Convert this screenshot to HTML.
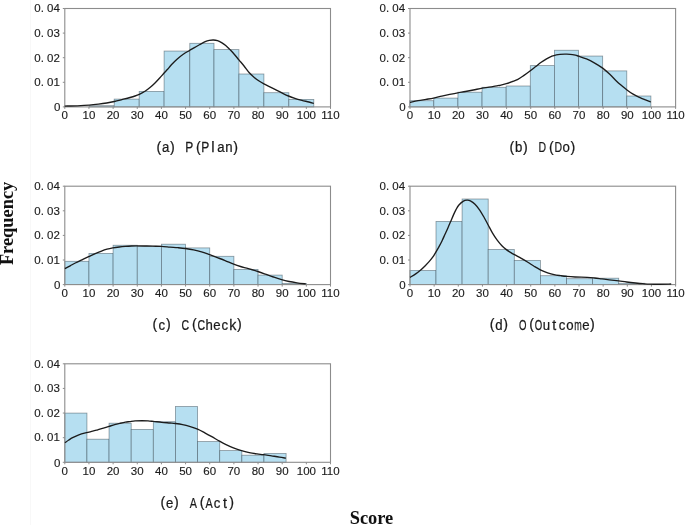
<!DOCTYPE html>
<html><head><meta charset="utf-8"><title>Histograms</title>
<style>html,body{margin:0;padding:0;background:#fff;}svg{display:block;will-change:transform;transform:translateZ(0);}</style>
</head><body>
<svg width="685" height="525" viewBox="0 0 685 525">
<style>
.t{font-family:"Liberation Sans",sans-serif;font-size:11.5px;fill:#1c1c1c;stroke:#1c1c1c;stroke-width:0.15px;}
.c{font-family:"Liberation Sans",sans-serif;font-size:15px;fill:#1a1a1a;stroke:#1a1a1a;stroke-width:0.25px;}
.b{font-family:"Liberation Serif",serif;font-size:18.4px;font-weight:bold;fill:#111;}
</style><rect width="685" height="525" fill="#ffffff"/>
<line x1="30.5" y1="0" x2="30.5" y2="525" stroke="#f8f8f8" stroke-width="1"/>
<g><rect x="89.25" y="105.70" width="24.95" height="1.20" fill="#B6DFF1" stroke="rgba(40,55,65,0.5)" stroke-width="0.8"/>
<rect x="114.20" y="99.10" width="25.00" height="7.80" fill="#B6DFF1" stroke="rgba(40,55,65,0.5)" stroke-width="0.8"/>
<rect x="139.20" y="91.40" width="24.90" height="15.50" fill="#B6DFF1" stroke="rgba(40,55,65,0.5)" stroke-width="0.8"/>
<rect x="164.10" y="51.05" width="25.70" height="55.85" fill="#B6DFF1" stroke="rgba(40,55,65,0.5)" stroke-width="0.8"/>
<rect x="189.80" y="43.30" width="24.20" height="63.60" fill="#B6DFF1" stroke="rgba(40,55,65,0.5)" stroke-width="0.8"/>
<rect x="214.00" y="49.60" width="24.95" height="57.30" fill="#B6DFF1" stroke="rgba(40,55,65,0.5)" stroke-width="0.8"/>
<rect x="238.95" y="74.00" width="24.95" height="32.90" fill="#B6DFF1" stroke="rgba(40,55,65,0.5)" stroke-width="0.8"/>
<rect x="263.90" y="92.70" width="24.95" height="14.20" fill="#B6DFF1" stroke="rgba(40,55,65,0.5)" stroke-width="0.8"/>
<rect x="288.85" y="99.40" width="24.95" height="7.50" fill="#B6DFF1" stroke="rgba(40,55,65,0.5)" stroke-width="0.8"/>
<rect x="64.80" y="8.50" width="265.70" height="98.40" fill="none" stroke="#8c8c8c" stroke-width="1.1"/>
<line x1="64.80" y1="106.90" x2="64.80" y2="108.90" stroke="#8c8c8c" stroke-width="1"/>
<text x="64.80" y="119.30" text-anchor="middle" class="t">0</text>
<line x1="88.95" y1="106.90" x2="88.95" y2="108.90" stroke="#8c8c8c" stroke-width="1"/>
<text x="88.95" y="119.30" text-anchor="middle" class="t">10</text>
<line x1="113.11" y1="106.90" x2="113.11" y2="108.90" stroke="#8c8c8c" stroke-width="1"/>
<text x="113.11" y="119.30" text-anchor="middle" class="t">20</text>
<line x1="137.26" y1="106.90" x2="137.26" y2="108.90" stroke="#8c8c8c" stroke-width="1"/>
<text x="137.26" y="119.30" text-anchor="middle" class="t">30</text>
<line x1="161.42" y1="106.90" x2="161.42" y2="108.90" stroke="#8c8c8c" stroke-width="1"/>
<text x="161.42" y="119.30" text-anchor="middle" class="t">40</text>
<line x1="185.57" y1="106.90" x2="185.57" y2="108.90" stroke="#8c8c8c" stroke-width="1"/>
<text x="185.57" y="119.30" text-anchor="middle" class="t">50</text>
<line x1="209.73" y1="106.90" x2="209.73" y2="108.90" stroke="#8c8c8c" stroke-width="1"/>
<text x="209.73" y="119.30" text-anchor="middle" class="t">60</text>
<line x1="233.88" y1="106.90" x2="233.88" y2="108.90" stroke="#8c8c8c" stroke-width="1"/>
<text x="233.88" y="119.30" text-anchor="middle" class="t">70</text>
<line x1="258.04" y1="106.90" x2="258.04" y2="108.90" stroke="#8c8c8c" stroke-width="1"/>
<text x="258.04" y="119.30" text-anchor="middle" class="t">80</text>
<line x1="282.19" y1="106.90" x2="282.19" y2="108.90" stroke="#8c8c8c" stroke-width="1"/>
<text x="282.19" y="119.30" text-anchor="middle" class="t">90</text>
<line x1="306.35" y1="106.90" x2="306.35" y2="108.90" stroke="#8c8c8c" stroke-width="1"/>
<text x="306.35" y="119.30" text-anchor="middle" class="t">100</text>
<line x1="330.50" y1="106.90" x2="330.50" y2="108.90" stroke="#8c8c8c" stroke-width="1"/>
<text x="330.50" y="119.30" text-anchor="middle" class="t">110</text>
<line x1="62.80" y1="106.90" x2="64.80" y2="106.90" stroke="#8c8c8c" stroke-width="1"/>
<text x="60.40" y="111.40" text-anchor="end" class="t" xml:space="preserve">0</text>
<line x1="62.80" y1="82.30" x2="64.80" y2="82.30" stroke="#8c8c8c" stroke-width="1"/>
<text x="59.90" y="86.10" text-anchor="end" class="t" xml:space="preserve">0. 01</text>
<line x1="62.80" y1="57.70" x2="64.80" y2="57.70" stroke="#8c8c8c" stroke-width="1"/>
<text x="59.90" y="61.50" text-anchor="end" class="t" xml:space="preserve">0. 02</text>
<line x1="62.80" y1="33.10" x2="64.80" y2="33.10" stroke="#8c8c8c" stroke-width="1"/>
<text x="59.90" y="36.90" text-anchor="end" class="t" xml:space="preserve">0. 03</text>
<line x1="62.80" y1="8.50" x2="64.80" y2="8.50" stroke="#8c8c8c" stroke-width="1"/>
<text x="59.90" y="12.30" text-anchor="end" class="t" xml:space="preserve">0. 04</text>
<path d="M64.70 106.10 C66.83 106.05 73.42 105.95 77.50 105.80 C81.58 105.65 85.70 105.47 89.20 105.20 C92.70 104.93 95.58 104.57 98.50 104.20 C101.42 103.83 104.07 103.45 106.70 103.00 C109.33 102.55 111.77 102.07 114.30 101.50 C116.83 100.93 119.28 100.27 121.90 99.60 C124.52 98.93 127.82 98.10 130.00 97.50 C132.18 96.90 133.45 96.53 135.00 96.00 C136.55 95.47 137.63 95.08 139.30 94.30 C140.97 93.52 143.17 92.47 145.00 91.30 C146.83 90.13 148.63 88.68 150.30 87.30 C151.97 85.92 153.43 84.55 155.00 83.00 C156.57 81.45 158.18 79.67 159.70 78.00 C161.22 76.33 162.78 74.45 164.10 73.00 C165.42 71.55 166.38 70.67 167.60 69.30 C168.82 67.93 169.78 66.51 171.40 64.80 C173.02 63.09 175.33 60.80 177.30 59.05 C179.28 57.30 181.22 55.72 183.25 54.30 C185.28 52.88 187.64 51.62 189.50 50.50 C191.36 49.38 192.63 48.57 194.40 47.55 C196.17 46.53 198.30 45.38 200.10 44.40 C201.90 43.42 203.67 42.37 205.20 41.70 C206.73 41.03 207.93 40.68 209.30 40.40 C210.67 40.12 212.03 39.95 213.40 40.00 C214.77 40.05 216.13 40.25 217.50 40.70 C218.87 41.15 220.23 41.90 221.60 42.70 C222.97 43.50 224.35 44.38 225.70 45.50 C227.05 46.62 228.35 48.03 229.70 49.40 C231.05 50.77 232.27 51.96 233.80 53.70 C235.33 55.44 237.19 57.80 238.90 59.85 C240.61 61.90 242.32 63.84 244.05 66.00 C245.78 68.16 247.64 70.92 249.30 72.80 C250.96 74.68 252.43 75.97 254.00 77.30 C255.57 78.63 257.05 79.70 258.70 80.80 C260.35 81.90 261.95 82.85 263.90 83.90 C265.85 84.95 268.15 85.98 270.40 87.10 C272.65 88.22 275.27 89.52 277.40 90.60 C279.53 91.68 281.35 92.70 283.20 93.60 C285.05 94.50 286.55 95.22 288.50 96.00 C290.45 96.78 292.67 97.58 294.90 98.30 C297.13 99.02 299.57 99.68 301.90 100.30 C304.23 100.92 306.92 101.48 308.90 102.00 C310.88 102.52 312.98 103.17 313.80 103.40" fill="none" stroke="#1c1c1c" stroke-width="1.35" stroke-linecap="butt" stroke-linejoin="round"/>
<text transform="translate(158.80 151.60) scale(0.95 0.93)" text-anchor="middle" class="c">(</text><text transform="translate(165.69 152.10) scale(0.88 1.00)" text-anchor="middle" class="c">a</text><text transform="translate(172.38 151.60) scale(0.95 0.93)" text-anchor="middle" class="c">)</text><text transform="translate(189.36 152.10) scale(0.80 1.00)" text-anchor="middle" class="c">P</text><text transform="translate(198.25 151.60) scale(0.95 0.93)" text-anchor="middle" class="c">(</text><text transform="translate(205.14 152.10) scale(0.80 1.00)" text-anchor="middle" class="c">P</text><text transform="translate(213.03 152.10) scale(1.00 1.00)" text-anchor="middle" class="c">l</text><text transform="translate(220.92 152.10) scale(0.88 1.00)" text-anchor="middle" class="c">a</text><text transform="translate(228.81 152.10) scale(0.88 1.00)" text-anchor="middle" class="c">n</text><text transform="translate(235.50 151.60) scale(0.95 0.93)" text-anchor="middle" class="c">)</text></g>
<g><rect x="409.70" y="100.70" width="24.12" height="6.20" fill="#B6DFF1" stroke="rgba(40,55,65,0.5)" stroke-width="0.8"/>
<rect x="433.82" y="98.10" width="24.12" height="8.80" fill="#B6DFF1" stroke="rgba(40,55,65,0.5)" stroke-width="0.8"/>
<rect x="457.94" y="92.20" width="24.12" height="14.70" fill="#B6DFF1" stroke="rgba(40,55,65,0.5)" stroke-width="0.8"/>
<rect x="482.06" y="87.30" width="24.12" height="19.60" fill="#B6DFF1" stroke="rgba(40,55,65,0.5)" stroke-width="0.8"/>
<rect x="506.18" y="86.00" width="24.12" height="20.90" fill="#B6DFF1" stroke="rgba(40,55,65,0.5)" stroke-width="0.8"/>
<rect x="530.30" y="65.60" width="24.12" height="41.30" fill="#B6DFF1" stroke="rgba(40,55,65,0.5)" stroke-width="0.8"/>
<rect x="554.42" y="50.25" width="24.12" height="56.65" fill="#B6DFF1" stroke="rgba(40,55,65,0.5)" stroke-width="0.8"/>
<rect x="578.54" y="56.05" width="24.12" height="50.85" fill="#B6DFF1" stroke="rgba(40,55,65,0.5)" stroke-width="0.8"/>
<rect x="602.66" y="70.90" width="24.12" height="36.00" fill="#B6DFF1" stroke="rgba(40,55,65,0.5)" stroke-width="0.8"/>
<rect x="626.78" y="96.00" width="24.12" height="10.90" fill="#B6DFF1" stroke="rgba(40,55,65,0.5)" stroke-width="0.8"/>
<rect x="410.00" y="8.50" width="265.60" height="98.40" fill="none" stroke="#8c8c8c" stroke-width="1.1"/>
<line x1="410.00" y1="106.90" x2="410.00" y2="108.90" stroke="#8c8c8c" stroke-width="1"/>
<text x="410.00" y="119.30" text-anchor="middle" class="t">0</text>
<line x1="434.15" y1="106.90" x2="434.15" y2="108.90" stroke="#8c8c8c" stroke-width="1"/>
<text x="434.15" y="119.30" text-anchor="middle" class="t">10</text>
<line x1="458.29" y1="106.90" x2="458.29" y2="108.90" stroke="#8c8c8c" stroke-width="1"/>
<text x="458.29" y="119.30" text-anchor="middle" class="t">20</text>
<line x1="482.44" y1="106.90" x2="482.44" y2="108.90" stroke="#8c8c8c" stroke-width="1"/>
<text x="482.44" y="119.30" text-anchor="middle" class="t">30</text>
<line x1="506.58" y1="106.90" x2="506.58" y2="108.90" stroke="#8c8c8c" stroke-width="1"/>
<text x="506.58" y="119.30" text-anchor="middle" class="t">40</text>
<line x1="530.73" y1="106.90" x2="530.73" y2="108.90" stroke="#8c8c8c" stroke-width="1"/>
<text x="530.73" y="119.30" text-anchor="middle" class="t">50</text>
<line x1="554.87" y1="106.90" x2="554.87" y2="108.90" stroke="#8c8c8c" stroke-width="1"/>
<text x="554.87" y="119.30" text-anchor="middle" class="t">60</text>
<line x1="579.02" y1="106.90" x2="579.02" y2="108.90" stroke="#8c8c8c" stroke-width="1"/>
<text x="579.02" y="119.30" text-anchor="middle" class="t">70</text>
<line x1="603.16" y1="106.90" x2="603.16" y2="108.90" stroke="#8c8c8c" stroke-width="1"/>
<text x="603.16" y="119.30" text-anchor="middle" class="t">80</text>
<line x1="627.31" y1="106.90" x2="627.31" y2="108.90" stroke="#8c8c8c" stroke-width="1"/>
<text x="627.31" y="119.30" text-anchor="middle" class="t">90</text>
<line x1="651.45" y1="106.90" x2="651.45" y2="108.90" stroke="#8c8c8c" stroke-width="1"/>
<text x="651.45" y="119.30" text-anchor="middle" class="t">100</text>
<line x1="675.60" y1="106.90" x2="675.60" y2="108.90" stroke="#8c8c8c" stroke-width="1"/>
<text x="675.60" y="119.30" text-anchor="middle" class="t">110</text>
<line x1="408.00" y1="106.90" x2="410.00" y2="106.90" stroke="#8c8c8c" stroke-width="1"/>
<text x="405.60" y="111.40" text-anchor="end" class="t" xml:space="preserve">0</text>
<line x1="408.00" y1="82.30" x2="410.00" y2="82.30" stroke="#8c8c8c" stroke-width="1"/>
<text x="405.10" y="86.10" text-anchor="end" class="t" xml:space="preserve">0. 01</text>
<line x1="408.00" y1="57.70" x2="410.00" y2="57.70" stroke="#8c8c8c" stroke-width="1"/>
<text x="405.10" y="61.50" text-anchor="end" class="t" xml:space="preserve">0. 02</text>
<line x1="408.00" y1="33.10" x2="410.00" y2="33.10" stroke="#8c8c8c" stroke-width="1"/>
<text x="405.10" y="36.90" text-anchor="end" class="t" xml:space="preserve">0. 03</text>
<line x1="408.00" y1="8.50" x2="410.00" y2="8.50" stroke="#8c8c8c" stroke-width="1"/>
<text x="405.10" y="12.30" text-anchor="end" class="t" xml:space="preserve">0. 04</text>
<path d="M410.00 102.30 C411.35 102.03 415.43 101.18 418.10 100.70 C420.77 100.22 423.42 99.83 426.00 99.40 C428.58 98.97 430.97 98.65 433.60 98.10 C436.23 97.55 439.12 96.72 441.80 96.10 C444.48 95.48 447.03 94.95 449.70 94.40 C452.37 93.85 455.18 93.28 457.80 92.80 C460.42 92.32 462.82 91.97 465.40 91.50 C467.98 91.03 470.48 90.55 473.30 90.00 C476.12 89.45 479.67 88.67 482.30 88.20 C484.93 87.73 486.50 87.63 489.10 87.20 C491.70 86.77 496.08 85.92 497.90 85.60 C499.72 85.28 498.60 85.62 500.00 85.30 C501.40 84.98 504.22 84.33 506.30 83.70 C508.38 83.07 510.57 82.23 512.50 81.50 C514.43 80.77 516.10 80.23 517.90 79.30 C519.70 78.37 521.28 77.28 523.30 75.90 C525.32 74.52 527.92 72.57 530.00 71.00 C532.08 69.43 533.93 67.95 535.80 66.50 C537.67 65.05 539.41 63.57 541.20 62.30 C542.99 61.03 544.77 59.92 546.55 58.90 C548.33 57.88 550.26 56.88 551.90 56.20 C553.54 55.53 555.05 55.16 556.40 54.85 C557.75 54.54 558.58 54.46 560.00 54.35 C561.42 54.24 563.22 54.21 564.90 54.20 C566.58 54.19 568.35 54.13 570.10 54.30 C571.85 54.47 573.98 54.88 575.40 55.20 C576.82 55.52 576.75 55.58 578.60 56.20 C580.45 56.82 583.82 57.76 586.50 58.90 C589.18 60.04 592.01 61.52 594.70 63.05 C597.39 64.58 600.13 66.22 602.65 68.10 C605.17 69.97 607.47 72.12 609.80 74.30 C612.12 76.48 614.55 79.26 616.60 81.20 C618.65 83.14 620.42 84.54 622.10 85.96 C623.78 87.38 624.87 88.33 626.70 89.70 C628.53 91.07 630.88 92.88 633.10 94.20 C635.32 95.52 637.93 96.64 640.00 97.60 C642.07 98.56 643.72 99.22 645.50 99.95 C647.28 100.68 649.83 101.66 650.70 102.00" fill="none" stroke="#1c1c1c" stroke-width="1.35" stroke-linecap="butt" stroke-linejoin="round"/>
<text transform="translate(511.84 151.60) scale(0.95 0.93)" text-anchor="middle" class="c">(</text><text transform="translate(518.73 152.10) scale(0.88 1.00)" text-anchor="middle" class="c">b</text><text transform="translate(525.42 151.60) scale(0.95 0.93)" text-anchor="middle" class="c">)</text><text transform="translate(542.40 152.10) scale(0.70 1.00)" text-anchor="middle" class="c">D</text><text transform="translate(551.29 151.60) scale(0.95 0.93)" text-anchor="middle" class="c">(</text><text transform="translate(558.18 152.10) scale(0.70 1.00)" text-anchor="middle" class="c">D</text><text transform="translate(566.07 152.10) scale(0.88 1.00)" text-anchor="middle" class="c">o</text><text transform="translate(572.76 151.60) scale(0.95 0.93)" text-anchor="middle" class="c">)</text></g>
<g><rect x="64.80" y="261.30" width="24.16" height="23.30" fill="#B6DFF1" stroke="rgba(40,55,65,0.5)" stroke-width="0.8"/>
<rect x="88.95" y="253.40" width="24.16" height="31.20" fill="#B6DFF1" stroke="rgba(40,55,65,0.5)" stroke-width="0.8"/>
<rect x="113.11" y="245.25" width="24.15" height="39.35" fill="#B6DFF1" stroke="rgba(40,55,65,0.5)" stroke-width="0.8"/>
<rect x="137.26" y="246.20" width="24.16" height="38.40" fill="#B6DFF1" stroke="rgba(40,55,65,0.5)" stroke-width="0.8"/>
<rect x="161.42" y="244.20" width="24.15" height="40.40" fill="#B6DFF1" stroke="rgba(40,55,65,0.5)" stroke-width="0.8"/>
<rect x="185.57" y="247.90" width="24.16" height="36.70" fill="#B6DFF1" stroke="rgba(40,55,65,0.5)" stroke-width="0.8"/>
<rect x="209.73" y="256.30" width="24.15" height="28.30" fill="#B6DFF1" stroke="rgba(40,55,65,0.5)" stroke-width="0.8"/>
<rect x="233.88" y="269.40" width="24.16" height="15.20" fill="#B6DFF1" stroke="rgba(40,55,65,0.5)" stroke-width="0.8"/>
<rect x="258.04" y="275.10" width="24.15" height="9.50" fill="#B6DFF1" stroke="rgba(40,55,65,0.5)" stroke-width="0.8"/>
<rect x="282.19" y="283.40" width="24.16" height="1.20" fill="#B6DFF1" stroke="rgba(40,55,65,0.5)" stroke-width="0.8"/>
<rect x="64.80" y="186.20" width="265.70" height="98.40" fill="none" stroke="#8c8c8c" stroke-width="1.1"/>
<line x1="64.80" y1="284.60" x2="64.80" y2="286.60" stroke="#8c8c8c" stroke-width="1"/>
<text x="64.80" y="297.00" text-anchor="middle" class="t">0</text>
<line x1="88.95" y1="284.60" x2="88.95" y2="286.60" stroke="#8c8c8c" stroke-width="1"/>
<text x="88.95" y="297.00" text-anchor="middle" class="t">10</text>
<line x1="113.11" y1="284.60" x2="113.11" y2="286.60" stroke="#8c8c8c" stroke-width="1"/>
<text x="113.11" y="297.00" text-anchor="middle" class="t">20</text>
<line x1="137.26" y1="284.60" x2="137.26" y2="286.60" stroke="#8c8c8c" stroke-width="1"/>
<text x="137.26" y="297.00" text-anchor="middle" class="t">30</text>
<line x1="161.42" y1="284.60" x2="161.42" y2="286.60" stroke="#8c8c8c" stroke-width="1"/>
<text x="161.42" y="297.00" text-anchor="middle" class="t">40</text>
<line x1="185.57" y1="284.60" x2="185.57" y2="286.60" stroke="#8c8c8c" stroke-width="1"/>
<text x="185.57" y="297.00" text-anchor="middle" class="t">50</text>
<line x1="209.73" y1="284.60" x2="209.73" y2="286.60" stroke="#8c8c8c" stroke-width="1"/>
<text x="209.73" y="297.00" text-anchor="middle" class="t">60</text>
<line x1="233.88" y1="284.60" x2="233.88" y2="286.60" stroke="#8c8c8c" stroke-width="1"/>
<text x="233.88" y="297.00" text-anchor="middle" class="t">70</text>
<line x1="258.04" y1="284.60" x2="258.04" y2="286.60" stroke="#8c8c8c" stroke-width="1"/>
<text x="258.04" y="297.00" text-anchor="middle" class="t">80</text>
<line x1="282.19" y1="284.60" x2="282.19" y2="286.60" stroke="#8c8c8c" stroke-width="1"/>
<text x="282.19" y="297.00" text-anchor="middle" class="t">90</text>
<line x1="306.35" y1="284.60" x2="306.35" y2="286.60" stroke="#8c8c8c" stroke-width="1"/>
<text x="306.35" y="297.00" text-anchor="middle" class="t">100</text>
<line x1="330.50" y1="284.60" x2="330.50" y2="286.60" stroke="#8c8c8c" stroke-width="1"/>
<text x="330.50" y="297.00" text-anchor="middle" class="t">110</text>
<line x1="62.80" y1="284.60" x2="64.80" y2="284.60" stroke="#8c8c8c" stroke-width="1"/>
<text x="60.40" y="289.10" text-anchor="end" class="t" xml:space="preserve">0</text>
<line x1="62.80" y1="260.00" x2="64.80" y2="260.00" stroke="#8c8c8c" stroke-width="1"/>
<text x="59.90" y="263.80" text-anchor="end" class="t" xml:space="preserve">0. 01</text>
<line x1="62.80" y1="235.40" x2="64.80" y2="235.40" stroke="#8c8c8c" stroke-width="1"/>
<text x="59.90" y="239.20" text-anchor="end" class="t" xml:space="preserve">0. 02</text>
<line x1="62.80" y1="210.80" x2="64.80" y2="210.80" stroke="#8c8c8c" stroke-width="1"/>
<text x="59.90" y="214.60" text-anchor="end" class="t" xml:space="preserve">0. 03</text>
<line x1="62.80" y1="186.20" x2="64.80" y2="186.20" stroke="#8c8c8c" stroke-width="1"/>
<text x="59.90" y="190.00" text-anchor="end" class="t" xml:space="preserve">0. 04</text>
<path d="M64.90 268.65 C65.78 268.17 68.47 266.74 70.20 265.80 C71.93 264.86 73.33 264.00 75.30 263.00 C77.27 262.00 79.78 260.85 82.00 259.80 C84.22 258.75 86.48 257.70 88.60 256.70 C90.72 255.70 92.65 254.70 94.70 253.80 C96.75 252.90 98.85 252.07 100.90 251.30 C102.95 250.53 105.02 249.77 107.00 249.20 C108.98 248.63 110.75 248.27 112.80 247.90 C114.85 247.53 117.20 247.25 119.30 247.00 C121.40 246.75 123.37 246.57 125.40 246.40 C127.43 246.23 129.53 246.08 131.50 246.00 C133.47 245.92 135.00 245.90 137.25 245.90 C139.50 245.90 142.39 245.95 145.00 246.00 C147.61 246.05 150.17 246.13 152.90 246.20 C155.63 246.27 158.55 246.25 161.40 246.40 C164.25 246.55 167.26 246.88 170.00 247.10 C172.74 247.32 175.27 247.47 177.85 247.70 C180.43 247.93 182.88 248.14 185.50 248.50 C188.12 248.86 190.93 249.30 193.60 249.85 C196.27 250.40 198.83 250.99 201.50 251.80 C204.17 252.61 206.97 253.73 209.60 254.70 C212.23 255.67 214.72 256.62 217.30 257.60 C219.88 258.58 222.37 259.50 225.10 260.60 C227.83 261.70 231.13 263.22 233.70 264.20 C236.27 265.18 238.05 265.77 240.50 266.50 C242.95 267.23 245.51 267.77 248.40 268.60 C251.29 269.43 255.00 270.57 257.85 271.50 C260.70 272.43 262.91 273.23 265.50 274.15 C268.09 275.07 270.72 276.07 273.40 277.00 C276.08 277.93 278.98 278.95 281.60 279.70 C284.22 280.45 286.53 280.98 289.10 281.50 C291.67 282.02 294.22 282.40 297.00 282.80 C299.78 283.20 304.33 283.72 305.80 283.90" fill="none" stroke="#1c1c1c" stroke-width="1.35" stroke-linecap="butt" stroke-linejoin="round"/>
<text transform="translate(154.85 329.30) scale(0.95 0.93)" text-anchor="middle" class="c">(</text><text transform="translate(161.75 329.80) scale(0.88 1.00)" text-anchor="middle" class="c">c</text><text transform="translate(168.44 329.30) scale(0.95 0.93)" text-anchor="middle" class="c">)</text><text transform="translate(185.41 329.80) scale(0.70 1.00)" text-anchor="middle" class="c">C</text><text transform="translate(194.31 329.30) scale(0.95 0.93)" text-anchor="middle" class="c">(</text><text transform="translate(201.19 329.80) scale(0.70 1.00)" text-anchor="middle" class="c">C</text><text transform="translate(209.08 329.80) scale(0.88 1.00)" text-anchor="middle" class="c">h</text><text transform="translate(216.97 329.80) scale(0.88 1.00)" text-anchor="middle" class="c">e</text><text transform="translate(224.87 329.80) scale(0.88 1.00)" text-anchor="middle" class="c">c</text><text transform="translate(232.75 329.80) scale(0.95 1.00)" text-anchor="middle" class="c">k</text><text transform="translate(239.44 329.30) scale(0.95 0.93)" text-anchor="middle" class="c">)</text></g>
<g><rect x="409.90" y="270.50" width="26.10" height="14.10" fill="#B6DFF1" stroke="rgba(40,55,65,0.5)" stroke-width="0.8"/>
<rect x="436.00" y="221.40" width="26.10" height="63.20" fill="#B6DFF1" stroke="rgba(40,55,65,0.5)" stroke-width="0.8"/>
<rect x="462.10" y="199.00" width="26.10" height="85.60" fill="#B6DFF1" stroke="rgba(40,55,65,0.5)" stroke-width="0.8"/>
<rect x="488.20" y="249.50" width="26.10" height="35.10" fill="#B6DFF1" stroke="rgba(40,55,65,0.5)" stroke-width="0.8"/>
<rect x="514.30" y="260.40" width="26.10" height="24.20" fill="#B6DFF1" stroke="rgba(40,55,65,0.5)" stroke-width="0.8"/>
<rect x="540.40" y="275.70" width="26.10" height="8.90" fill="#B6DFF1" stroke="rgba(40,55,65,0.5)" stroke-width="0.8"/>
<rect x="566.50" y="278.70" width="26.10" height="5.90" fill="#B6DFF1" stroke="rgba(40,55,65,0.5)" stroke-width="0.8"/>
<rect x="592.60" y="278.20" width="26.10" height="6.40" fill="#B6DFF1" stroke="rgba(40,55,65,0.5)" stroke-width="0.8"/>
<rect x="618.70" y="283.30" width="26.10" height="1.30" fill="#B6DFF1" stroke="rgba(40,55,65,0.5)" stroke-width="0.8"/>
<rect x="410.00" y="186.20" width="265.60" height="98.40" fill="none" stroke="#8c8c8c" stroke-width="1.1"/>
<line x1="410.00" y1="284.60" x2="410.00" y2="286.60" stroke="#8c8c8c" stroke-width="1"/>
<text x="410.00" y="297.00" text-anchor="middle" class="t">0</text>
<line x1="434.15" y1="284.60" x2="434.15" y2="286.60" stroke="#8c8c8c" stroke-width="1"/>
<text x="434.15" y="297.00" text-anchor="middle" class="t">10</text>
<line x1="458.29" y1="284.60" x2="458.29" y2="286.60" stroke="#8c8c8c" stroke-width="1"/>
<text x="458.29" y="297.00" text-anchor="middle" class="t">20</text>
<line x1="482.44" y1="284.60" x2="482.44" y2="286.60" stroke="#8c8c8c" stroke-width="1"/>
<text x="482.44" y="297.00" text-anchor="middle" class="t">30</text>
<line x1="506.58" y1="284.60" x2="506.58" y2="286.60" stroke="#8c8c8c" stroke-width="1"/>
<text x="506.58" y="297.00" text-anchor="middle" class="t">40</text>
<line x1="530.73" y1="284.60" x2="530.73" y2="286.60" stroke="#8c8c8c" stroke-width="1"/>
<text x="530.73" y="297.00" text-anchor="middle" class="t">50</text>
<line x1="554.87" y1="284.60" x2="554.87" y2="286.60" stroke="#8c8c8c" stroke-width="1"/>
<text x="554.87" y="297.00" text-anchor="middle" class="t">60</text>
<line x1="579.02" y1="284.60" x2="579.02" y2="286.60" stroke="#8c8c8c" stroke-width="1"/>
<text x="579.02" y="297.00" text-anchor="middle" class="t">70</text>
<line x1="603.16" y1="284.60" x2="603.16" y2="286.60" stroke="#8c8c8c" stroke-width="1"/>
<text x="603.16" y="297.00" text-anchor="middle" class="t">80</text>
<line x1="627.31" y1="284.60" x2="627.31" y2="286.60" stroke="#8c8c8c" stroke-width="1"/>
<text x="627.31" y="297.00" text-anchor="middle" class="t">90</text>
<line x1="651.45" y1="284.60" x2="651.45" y2="286.60" stroke="#8c8c8c" stroke-width="1"/>
<text x="651.45" y="297.00" text-anchor="middle" class="t">100</text>
<line x1="675.60" y1="284.60" x2="675.60" y2="286.60" stroke="#8c8c8c" stroke-width="1"/>
<text x="675.60" y="297.00" text-anchor="middle" class="t">110</text>
<line x1="408.00" y1="284.60" x2="410.00" y2="284.60" stroke="#8c8c8c" stroke-width="1"/>
<text x="405.60" y="289.10" text-anchor="end" class="t" xml:space="preserve">0</text>
<line x1="408.00" y1="260.00" x2="410.00" y2="260.00" stroke="#8c8c8c" stroke-width="1"/>
<text x="405.10" y="263.80" text-anchor="end" class="t" xml:space="preserve">0. 01</text>
<line x1="408.00" y1="235.40" x2="410.00" y2="235.40" stroke="#8c8c8c" stroke-width="1"/>
<text x="405.10" y="239.20" text-anchor="end" class="t" xml:space="preserve">0. 02</text>
<line x1="408.00" y1="210.80" x2="410.00" y2="210.80" stroke="#8c8c8c" stroke-width="1"/>
<text x="405.10" y="214.60" text-anchor="end" class="t" xml:space="preserve">0. 03</text>
<line x1="408.00" y1="186.20" x2="410.00" y2="186.20" stroke="#8c8c8c" stroke-width="1"/>
<text x="405.10" y="190.00" text-anchor="end" class="t" xml:space="preserve">0. 04</text>
<path d="M410.00 277.40 C410.95 276.82 413.92 275.13 415.70 273.90 C417.48 272.67 419.15 271.32 420.70 270.00 C422.25 268.68 423.57 267.43 425.00 266.00 C426.43 264.57 427.98 262.92 429.30 261.40 C430.62 259.88 431.83 258.40 432.90 256.90 C433.97 255.40 434.63 254.20 435.70 252.40 C436.77 250.60 438.23 248.05 439.30 246.10 C440.37 244.15 441.15 242.67 442.10 240.70 C443.05 238.73 444.03 236.43 445.00 234.30 C445.97 232.17 446.95 230.05 447.90 227.90 C448.85 225.75 449.75 223.62 450.70 221.40 C451.65 219.18 452.72 216.57 453.60 214.60 C454.48 212.63 455.15 211.17 456.00 209.60 C456.85 208.03 457.47 206.62 458.70 205.20 C459.93 203.78 462.00 201.93 463.40 201.10 C464.80 200.27 465.93 200.23 467.10 200.20 C468.27 200.17 469.08 200.22 470.40 200.90 C471.72 201.58 473.45 202.72 475.00 204.25 C476.55 205.78 478.13 207.81 479.70 210.10 C481.27 212.39 482.98 215.52 484.40 218.00 C485.82 220.48 486.84 222.47 488.20 225.00 C489.56 227.53 491.05 230.67 492.55 233.20 C494.05 235.73 495.64 238.10 497.20 240.20 C498.76 242.30 500.43 244.27 501.90 245.80 C503.37 247.33 504.57 248.30 506.00 249.40 C507.43 250.50 509.10 251.52 510.50 252.40 C511.90 253.28 512.60 253.70 514.40 254.70 C516.20 255.70 519.06 257.13 521.30 258.40 C523.54 259.67 525.67 260.95 527.85 262.30 C530.03 263.65 532.33 265.25 534.40 266.50 C536.47 267.75 538.10 268.75 540.30 269.80 C542.50 270.85 545.30 271.98 547.60 272.80 C549.90 273.62 551.92 274.22 554.10 274.70 C556.28 275.18 558.62 275.42 560.70 275.70 C562.78 275.98 564.20 276.18 566.60 276.40 C569.00 276.62 571.65 276.83 575.10 277.00 C578.55 277.17 584.05 277.23 587.30 277.40 C590.55 277.57 592.17 277.75 594.60 278.00 C597.03 278.25 599.47 278.60 601.90 278.90 C604.33 279.20 606.40 279.46 609.20 279.80 C612.00 280.14 615.78 280.58 618.70 280.95 C621.62 281.32 623.90 281.66 626.70 282.00 C629.50 282.34 632.82 282.72 635.50 283.00 C638.18 283.28 640.37 283.50 642.80 283.70 C645.23 283.90 647.18 284.12 650.10 284.20 C653.02 284.28 656.78 284.23 660.30 284.20 C663.82 284.17 669.38 284.03 671.20 284.00" fill="none" stroke="#1c1c1c" stroke-width="1.35" stroke-linecap="butt" stroke-linejoin="round"/>
<text transform="translate(492.11 329.30) scale(0.95 0.93)" text-anchor="middle" class="c">(</text><text transform="translate(499.00 329.80) scale(0.88 1.00)" text-anchor="middle" class="c">d</text><text transform="translate(505.69 329.30) scale(0.95 0.93)" text-anchor="middle" class="c">)</text><text transform="translate(522.67 329.80) scale(0.64 1.00)" text-anchor="middle" class="c">O</text><text transform="translate(531.56 329.30) scale(0.95 0.93)" text-anchor="middle" class="c">(</text><text transform="translate(538.45 329.80) scale(0.64 1.00)" text-anchor="middle" class="c">O</text><text transform="translate(546.34 329.80) scale(0.88 1.00)" text-anchor="middle" class="c">u</text><text transform="translate(554.23 329.80) scale(0.95 1.00)" text-anchor="middle" class="c">t</text><text transform="translate(562.12 329.80) scale(0.88 1.00)" text-anchor="middle" class="c">c</text><text transform="translate(570.01 329.80) scale(0.88 1.00)" text-anchor="middle" class="c">o</text><text transform="translate(577.90 329.80) scale(0.60 1.00)" text-anchor="middle" class="c">m</text><text transform="translate(585.79 329.80) scale(0.88 1.00)" text-anchor="middle" class="c">e</text><text transform="translate(592.48 329.30) scale(0.95 0.93)" text-anchor="middle" class="c">)</text></g>
<g><rect x="64.80" y="413.10" width="22.13" height="49.20" fill="#B6DFF1" stroke="rgba(40,55,65,0.5)" stroke-width="0.8"/>
<rect x="86.93" y="439.20" width="22.13" height="23.10" fill="#B6DFF1" stroke="rgba(40,55,65,0.5)" stroke-width="0.8"/>
<rect x="109.06" y="423.20" width="22.13" height="39.10" fill="#B6DFF1" stroke="rgba(40,55,65,0.5)" stroke-width="0.8"/>
<rect x="131.19" y="429.40" width="22.13" height="32.90" fill="#B6DFF1" stroke="rgba(40,55,65,0.5)" stroke-width="0.8"/>
<rect x="153.32" y="421.70" width="22.13" height="40.60" fill="#B6DFF1" stroke="rgba(40,55,65,0.5)" stroke-width="0.8"/>
<rect x="175.45" y="406.50" width="22.13" height="55.80" fill="#B6DFF1" stroke="rgba(40,55,65,0.5)" stroke-width="0.8"/>
<rect x="197.58" y="441.60" width="22.13" height="20.70" fill="#B6DFF1" stroke="rgba(40,55,65,0.5)" stroke-width="0.8"/>
<rect x="219.71" y="450.60" width="22.13" height="11.70" fill="#B6DFF1" stroke="rgba(40,55,65,0.5)" stroke-width="0.8"/>
<rect x="241.84" y="455.20" width="22.13" height="7.10" fill="#B6DFF1" stroke="rgba(40,55,65,0.5)" stroke-width="0.8"/>
<rect x="263.97" y="453.50" width="22.13" height="8.80" fill="#B6DFF1" stroke="rgba(40,55,65,0.5)" stroke-width="0.8"/>
<rect x="64.80" y="363.80" width="265.70" height="98.50" fill="none" stroke="#8c8c8c" stroke-width="1.1"/>
<line x1="64.80" y1="462.30" x2="64.80" y2="464.30" stroke="#8c8c8c" stroke-width="1"/>
<text x="64.80" y="474.70" text-anchor="middle" class="t">0</text>
<line x1="88.95" y1="462.30" x2="88.95" y2="464.30" stroke="#8c8c8c" stroke-width="1"/>
<text x="88.95" y="474.70" text-anchor="middle" class="t">10</text>
<line x1="113.11" y1="462.30" x2="113.11" y2="464.30" stroke="#8c8c8c" stroke-width="1"/>
<text x="113.11" y="474.70" text-anchor="middle" class="t">20</text>
<line x1="137.26" y1="462.30" x2="137.26" y2="464.30" stroke="#8c8c8c" stroke-width="1"/>
<text x="137.26" y="474.70" text-anchor="middle" class="t">30</text>
<line x1="161.42" y1="462.30" x2="161.42" y2="464.30" stroke="#8c8c8c" stroke-width="1"/>
<text x="161.42" y="474.70" text-anchor="middle" class="t">40</text>
<line x1="185.57" y1="462.30" x2="185.57" y2="464.30" stroke="#8c8c8c" stroke-width="1"/>
<text x="185.57" y="474.70" text-anchor="middle" class="t">50</text>
<line x1="209.73" y1="462.30" x2="209.73" y2="464.30" stroke="#8c8c8c" stroke-width="1"/>
<text x="209.73" y="474.70" text-anchor="middle" class="t">60</text>
<line x1="233.88" y1="462.30" x2="233.88" y2="464.30" stroke="#8c8c8c" stroke-width="1"/>
<text x="233.88" y="474.70" text-anchor="middle" class="t">70</text>
<line x1="258.04" y1="462.30" x2="258.04" y2="464.30" stroke="#8c8c8c" stroke-width="1"/>
<text x="258.04" y="474.70" text-anchor="middle" class="t">80</text>
<line x1="282.19" y1="462.30" x2="282.19" y2="464.30" stroke="#8c8c8c" stroke-width="1"/>
<text x="282.19" y="474.70" text-anchor="middle" class="t">90</text>
<line x1="306.35" y1="462.30" x2="306.35" y2="464.30" stroke="#8c8c8c" stroke-width="1"/>
<text x="306.35" y="474.70" text-anchor="middle" class="t">100</text>
<line x1="330.50" y1="462.30" x2="330.50" y2="464.30" stroke="#8c8c8c" stroke-width="1"/>
<text x="330.50" y="474.70" text-anchor="middle" class="t">110</text>
<line x1="62.80" y1="462.30" x2="64.80" y2="462.30" stroke="#8c8c8c" stroke-width="1"/>
<text x="60.40" y="466.80" text-anchor="end" class="t" xml:space="preserve">0</text>
<line x1="62.80" y1="437.68" x2="64.80" y2="437.68" stroke="#8c8c8c" stroke-width="1"/>
<text x="59.90" y="441.48" text-anchor="end" class="t" xml:space="preserve">0. 01</text>
<line x1="62.80" y1="413.05" x2="64.80" y2="413.05" stroke="#8c8c8c" stroke-width="1"/>
<text x="59.90" y="416.85" text-anchor="end" class="t" xml:space="preserve">0. 02</text>
<line x1="62.80" y1="388.43" x2="64.80" y2="388.43" stroke="#8c8c8c" stroke-width="1"/>
<text x="59.90" y="392.23" text-anchor="end" class="t" xml:space="preserve">0. 03</text>
<line x1="62.80" y1="363.80" x2="64.80" y2="363.80" stroke="#8c8c8c" stroke-width="1"/>
<text x="59.90" y="367.60" text-anchor="end" class="t" xml:space="preserve">0. 04</text>
<path d="M65.00 442.70 C65.63 442.25 67.53 440.83 68.80 440.00 C70.07 439.17 70.92 438.55 72.60 437.70 C74.27 436.85 76.55 435.73 78.85 434.90 C81.15 434.07 84.09 433.32 86.40 432.70 C88.71 432.08 90.82 431.68 92.70 431.20 C94.58 430.72 95.92 430.31 97.70 429.80 C99.48 429.29 101.52 428.72 103.40 428.15 C105.28 427.58 107.12 426.99 109.00 426.40 C110.88 425.81 112.82 425.12 114.70 424.60 C116.58 424.08 118.53 423.65 120.30 423.25 C122.07 422.85 123.77 422.47 125.35 422.20 C126.92 421.93 128.12 421.82 129.75 421.60 C131.38 421.38 133.04 421.05 135.10 420.90 C137.16 420.75 139.95 420.70 142.10 420.70 C144.25 420.70 146.12 420.78 148.00 420.90 C149.88 421.02 151.07 421.17 153.35 421.40 C155.63 421.63 158.92 422.03 161.70 422.30 C164.47 422.57 167.73 422.80 170.00 423.00 C172.27 423.20 173.20 423.23 175.30 423.50 C177.40 423.77 180.23 424.13 182.60 424.60 C184.97 425.07 187.00 425.55 189.50 426.30 C192.00 427.05 195.05 428.02 197.60 429.10 C200.15 430.18 202.43 431.53 204.80 432.80 C207.17 434.07 209.34 435.30 211.80 436.70 C214.26 438.10 217.27 439.93 219.55 441.20 C221.83 442.47 223.19 443.19 225.50 444.30 C227.81 445.41 230.73 446.78 233.40 447.85 C236.07 448.92 238.87 449.91 241.50 450.70 C244.13 451.49 246.62 452.07 249.20 452.60 C251.78 453.13 254.64 453.55 257.00 453.90 C259.36 454.25 260.93 454.37 263.35 454.70 C265.77 455.03 268.82 455.51 271.50 455.90 C274.18 456.29 276.99 456.67 279.40 457.05 C281.81 457.43 284.86 458.01 285.95 458.20" fill="none" stroke="#1c1c1c" stroke-width="1.35" stroke-linecap="butt" stroke-linejoin="round"/>
<text transform="translate(162.75 507.00) scale(0.95 0.93)" text-anchor="middle" class="c">(</text><text transform="translate(169.64 507.50) scale(0.88 1.00)" text-anchor="middle" class="c">e</text><text transform="translate(176.33 507.00) scale(0.95 0.93)" text-anchor="middle" class="c">)</text><text transform="translate(193.31 507.50) scale(0.72 1.00)" text-anchor="middle" class="c">A</text><text transform="translate(202.19 507.00) scale(0.95 0.93)" text-anchor="middle" class="c">(</text><text transform="translate(209.09 507.50) scale(0.72 1.00)" text-anchor="middle" class="c">A</text><text transform="translate(216.98 507.50) scale(0.88 1.00)" text-anchor="middle" class="c">c</text><text transform="translate(224.87 507.50) scale(0.95 1.00)" text-anchor="middle" class="c">t</text><text transform="translate(231.56 507.00) scale(0.95 0.93)" text-anchor="middle" class="c">)</text></g>
<text transform="translate(13.1 223.4) rotate(-90)" text-anchor="middle" class="b">Frequency</text>
<text x="371.5" y="523.7" text-anchor="middle" class="b">Score</text>
</svg>
</body></html>
